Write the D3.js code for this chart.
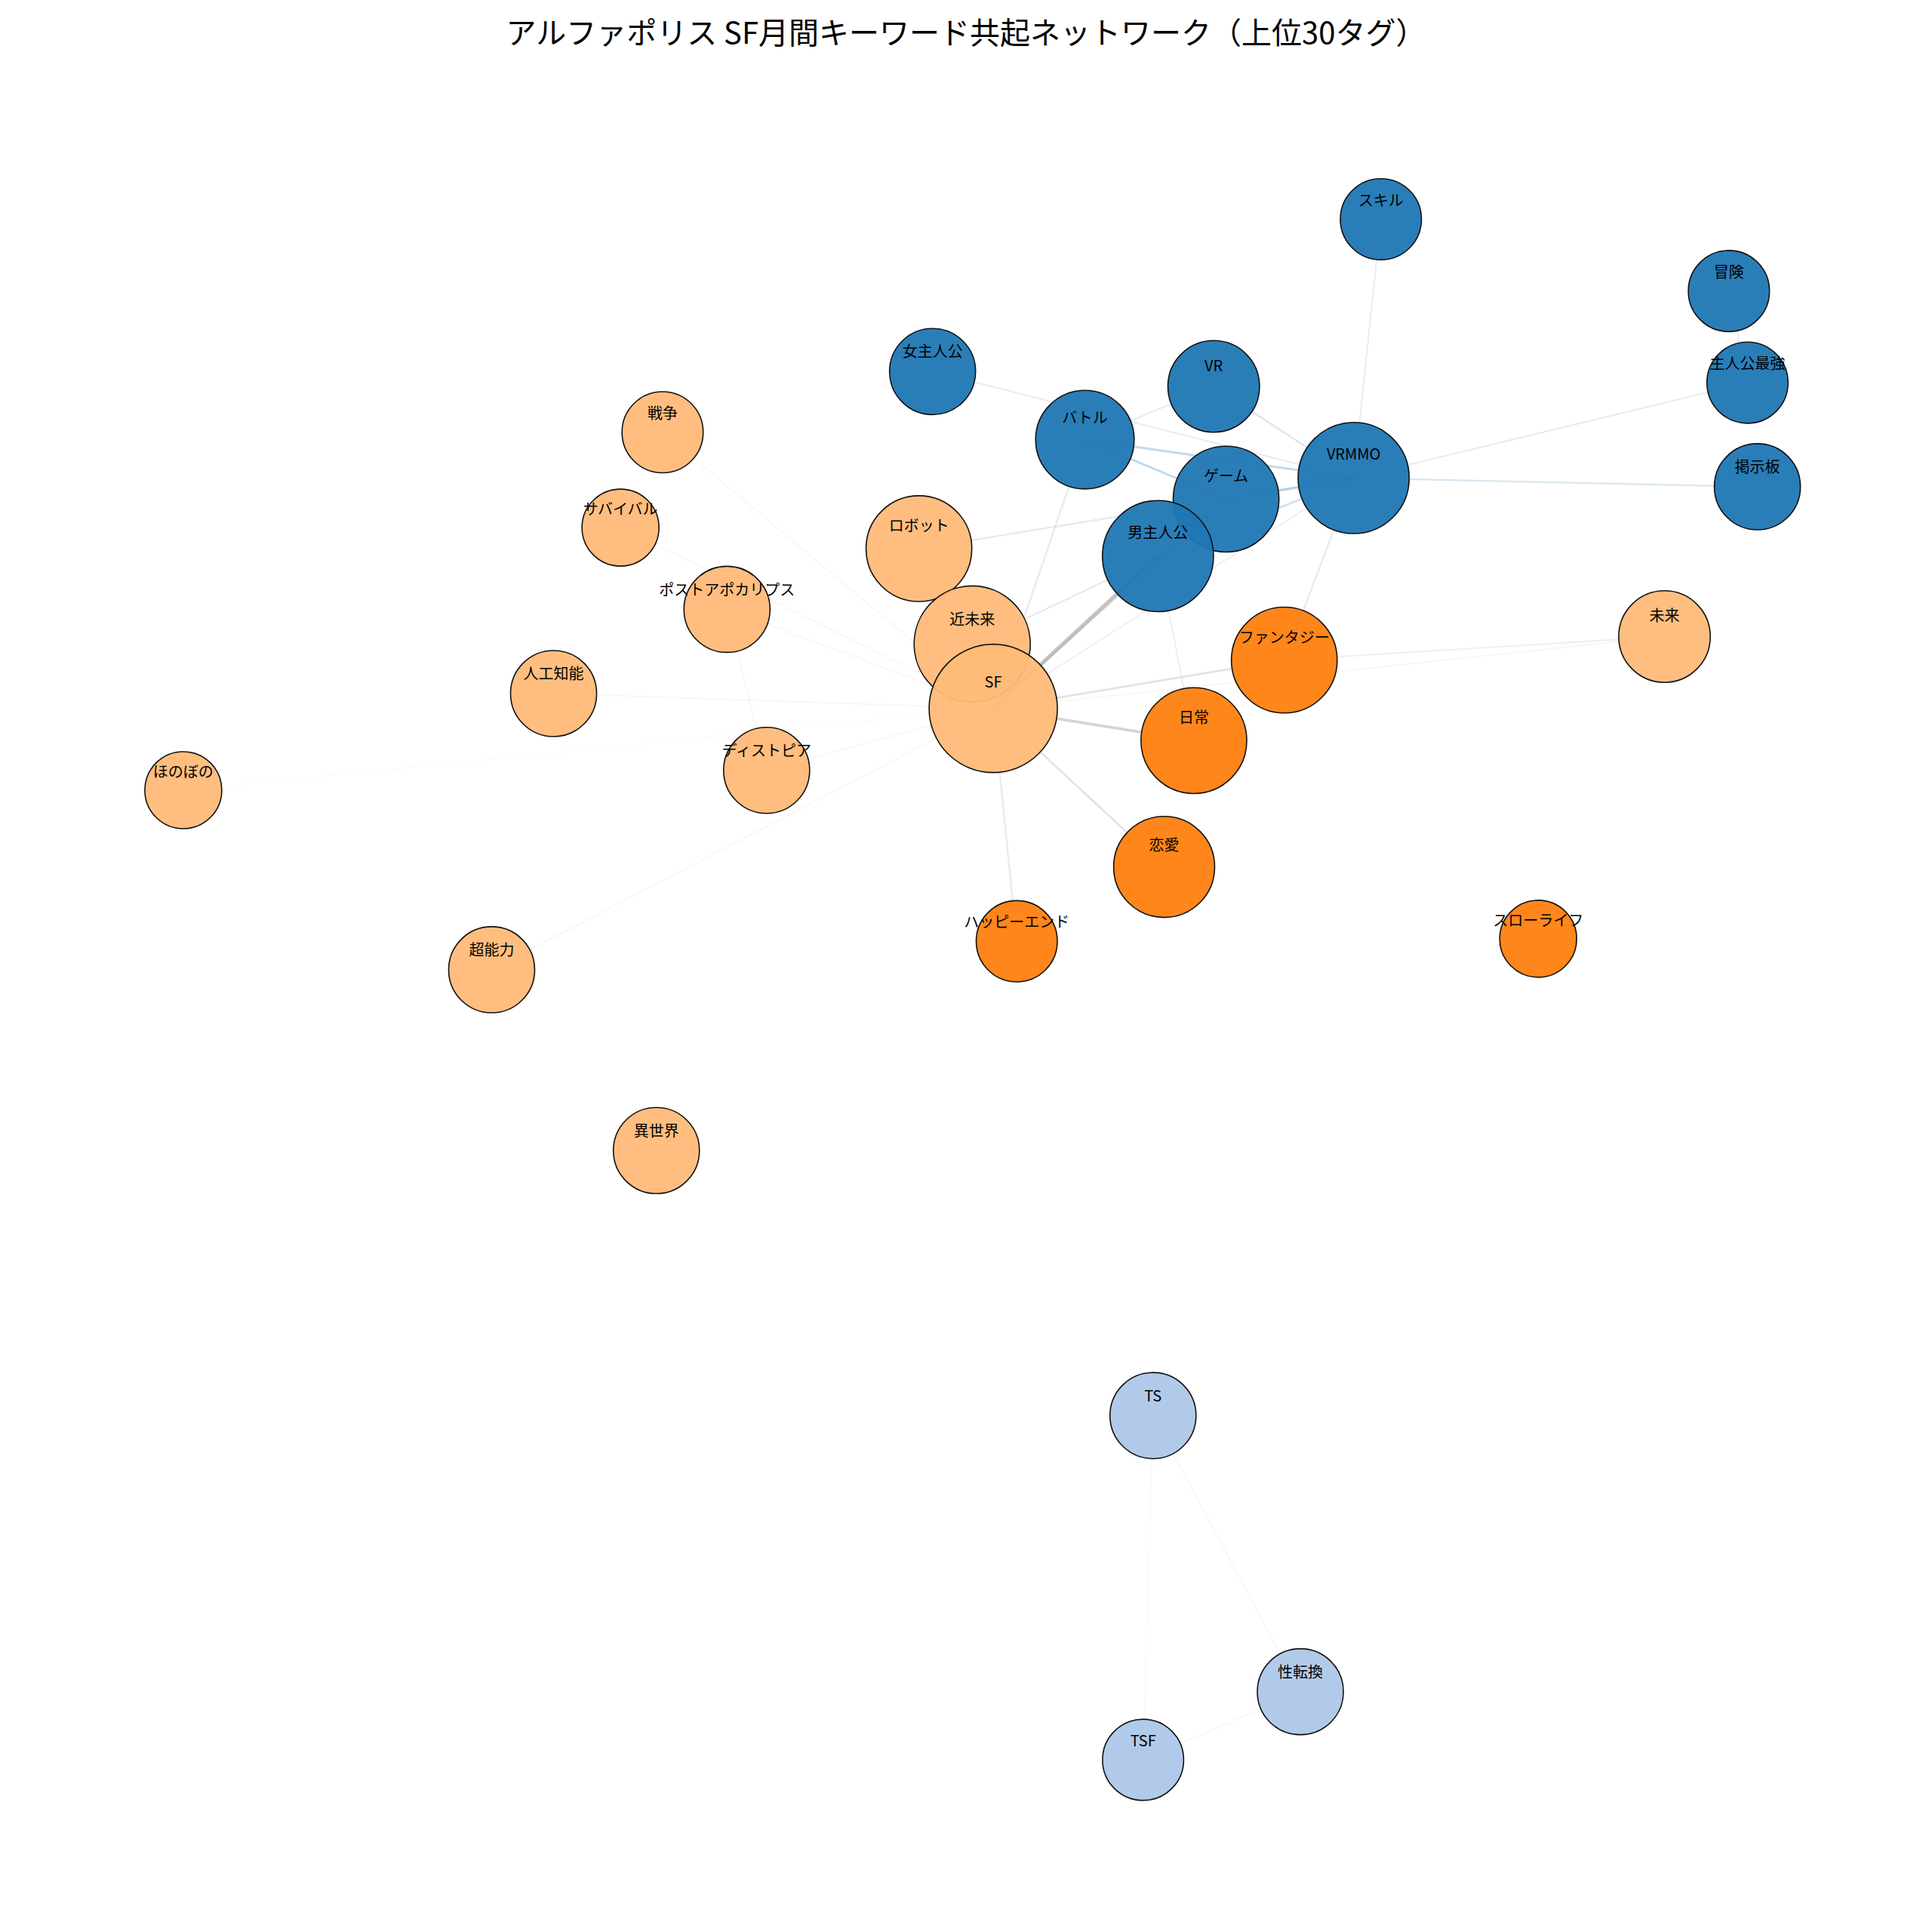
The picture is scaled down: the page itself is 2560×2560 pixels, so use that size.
<!DOCTYPE html>
<html><head><meta charset="utf-8">
<script src="https://cdn.jsdelivr.net/npm/d3@7"></script>
<style>body{margin:0;background:#fff}</style>
</head><body>
<script>
const tags = ["スキル","冒険","主人公最強","掲示板","女主人公","VR","バトル","ゲーム","VRMMO","男主人公",
"ファンタジー","日常","恋愛","ハッピーエンド","スローライフ",
"戦争","サバイバル","ポストアポカリプス","ロボット","近未来","SF","人工知能","ディストピア","ほのぼの","超能力","異世界","未来",
"TS","性転換","TSF"];
const groups = [0,0,0,0,0,0,0,0,0,0, 1,1,1,1,1, 2,2,2,2,2,2,2,2,2,2,2,2, 3,3,3];
const counts = [40,40,40,45,45,51,59,68,75,75, 68,68,62,40,36, 40,36,45,68,82,100,45,45,36,45,45,51, 45,45,40];
const layoutX = [1115,1396,1411,1419,753,980,876,990,1093,935, 1037,964,940,821,1242, 535,501,587,742,785,802,447,619,148,397,530,1344, 931,1050,923];
const layoutY = [177,235,309,393,300,312,355,403,386,449, 533,598,700,760,758, 349,426,492,443,520,572,560,622,638,783,929,514, 1143,1366,1421];
const edgeSrc = ["SF","SF","SF","SF","SF","SF","SF","SF","SF","SF","SF","SF","SF","SF","SF","SF","SF","SF",
"VRMMO","VRMMO","VRMMO","VRMMO","VRMMO","VRMMO","VRMMO","VRMMO","VRMMO","ゲーム","ゲーム","ゲーム","近未来","冒険","ディストピア","TS","性転換","TS","バトル","ファンタジー","日常"];
const edgeTgt = ["男主人公","日常","ファンタジー","恋愛","ハッピーエンド","近未来","ロボット","人工知能","ディストピア","超能力","ポストアポカリプス","戦争","サバイバル","バトル","ゲーム","VRMMO","未来","ほのぼの",
"ゲーム","バトル","VR","スキル","主人公最強","掲示板","男主人公","ファンタジー","女主人公","バトル","男主人公","ロボット","男主人公","主人公最強","ポストアポカリプス","性転換","TSF","TSF","VR","未来","男主人公"];
const edgeW = [10,7,4,4,3,5,3,2,2,2,2,2,2,3,3,2,2,1,
6,5,3,2,2,3,4,3,2,5,4,3,3,2,2,2,2,1,2,2,2];

const W=2560,H=2560;
const colors=["#1f77b4","#ff7f0e","#ffbb78","#aec7e8"];
const sx=d3.scaleLinear().domain([0,1560]).range([0,W]);
const sy=d3.scaleLinear().domain([0,1560]).range([0,H]);
const sr=d3.scaleSqrt().domain([0,100]).range([0,85]);
const sw=d3.scaleLinear().domain([0,10]).range([1,5]);
const so=d3.scaleLinear().domain([0,10]).range([0.05,0.5]);

const nodes=tags.map((t,i)=>({t,g:groups[i],c:counts[i],x:sx(layoutX[i]),y:sy(layoutY[i])}));
const byName=new Map(nodes.map(n=>[n.t,n]));
const edges=edgeSrc.map((s,i)=>({s:byName.get(s),t:byName.get(edgeTgt[i]),w:edgeW[i]}));

const svg=d3.select("body").append("svg").attr("width",W).attr("height",H);
svg.append("rect").attr("width",W).attr("height",H).attr("fill","#fff");
svg.append("text").attr("x",W/2).attr("y",58).attr("text-anchor","middle")
  .attr("font-family","Noto Sans CJK JP").attr("font-size",40).text("アルファポリス SF月間キーワード共起ネットワーク（上位30タグ）");

svg.append("g").selectAll("line").data(edges).join("line")
  .attr("x1",d=>d.s.x).attr("y1",d=>d.s.y).attr("x2",d=>d.t.x).attr("y2",d=>d.t.y)
  .attr("stroke",d=>d.s.g===d.t.g?colors[d.s.g]:"#888")
  .attr("stroke-opacity",d=>so(d.w)).attr("stroke-width",d=>sw(d.w));

const ng=svg.append("g");
ng.selectAll("circle").data(nodes).join("circle")
  .attr("cx",d=>d.x).attr("cy",d=>d.y).attr("r",d=>sr(d.c))
  .attr("fill",d=>colors[d.g]).attr("fill-opacity",0.95)
  .attr("stroke","#111").attr("stroke-width",1.6);
ng.selectAll("text").data(nodes).join("text")
  .attr("x",d=>d.x).attr("y",d=>d.y-sr(d.c)*0.33)
  .attr("text-anchor","middle").attr("font-family","Noto Sans CJK JP").attr("font-size",20)
  .attr("fill","#000").text(d=>d.t);
</script>
</body></html>
